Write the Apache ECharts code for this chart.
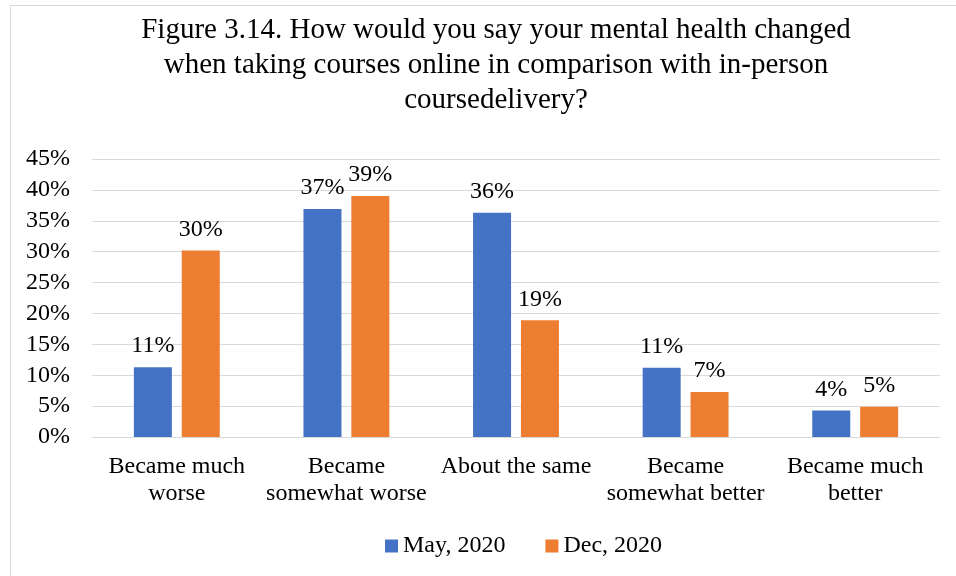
<!DOCTYPE html>
<html>
<head>
<meta charset="utf-8">
<script src="https://cdn.jsdelivr.net/npm/echarts@6/dist/echarts.min.js"></script>
<style>
  html, body { margin: 0; padding: 0; background: #fff; overflow: hidden; }
  .frame { position: absolute; left: 10px; top: 5px; width: 980px; height: 600px; border: 1px solid #d9d9d9; box-sizing: border-box; }
  #chart { position: absolute; left: 0; top: 0; width: 956px; height: 576px; }
</style>
</head>
<body>
<div class="frame"></div>
<div id="chart"></div>
<script>
const categories = ['Became much\nworse', 'Became\nsomewhat worse', 'About the same', 'Became\nsomewhat better', 'Became much\nbetter'];
const may2020 = [11.3, 36.9, 36.3, 11.2, 4.3];
const dec2020 = [30.2, 39.0, 18.9, 7.3, 4.9];
const seriesNames = ['May, 2020', 'Dec, 2020'];

const font = "'Liberation Serif', 'Times New Roman', serif";
const myChart = echarts.init(document.getElementById('chart'));

const labelStyle = {
  show: true,
  position: 'top',
  distance: 9,
  fontFamily: font,
  fontSize: 24,
  color: '#000',
  formatter: (p) => Math.round(p.value) + '%',
};

const option = {
  animation: false,
  title: {
    text: 'Figure 3.14. How would you say your mental health changed\nwhen taking courses online in comparison with in-person\ncoursedelivery?',
    left: 491,
    textAlign: 'center',
    top: 8,
    textStyle: {
      fontFamily: font,
      fontSize: 29,
      fontWeight: 'normal',
      color: '#000',
      lineHeight: 35,
    },
  },
  legend: {
    data: seriesNames,
    top: 529,
    left: 380,
    itemWidth: 13,
    itemHeight: 13,
    itemGap: 40,
    icon: 'rect',
    textStyle: { fontFamily: font, fontSize: 24, color: '#000' },
  },
  grid: {
    left: 92,
    right: 16,
    top: 159,
    bottom: 139,
  },
  xAxis: {
    type: 'category',
    data: categories,
    axisTick: { show: false },
    axisLine: { lineStyle: { color: '#d9d9d9', width: 1 } },
    axisLabel: {
      fontFamily: font,
      fontSize: 24,
      color: '#000',
      lineHeight: 27,
      margin: 16,
      interval: 0,
    },
  },
  yAxis: {
    type: 'value',
    min: 0,
    max: 45,
    interval: 5,
    axisLine: { show: false },
    axisTick: { show: false },
    axisLabel: {
      fontFamily: font,
      fontSize: 24,
      color: '#000',
      margin: 22,
      formatter: '{value}%',
    },
    splitLine: { lineStyle: { color: '#d9d9d9', width: 1 } },
  },
  series: [
    {
      name: seriesNames[0],
      type: 'bar',
      data: may2020,
      barWidth: 38,
      barGap: '26%',
      itemStyle: { color: '#4472c4' },
      label: labelStyle,
    },
    {
      name: seriesNames[1],
      type: 'bar',
      data: dec2020,
      barWidth: 38,
      barGap: '26%',
      itemStyle: { color: '#ed7d31' },
      label: labelStyle,
    },
  ],
};

myChart.setOption(option);
</script>
</body>
</html>
